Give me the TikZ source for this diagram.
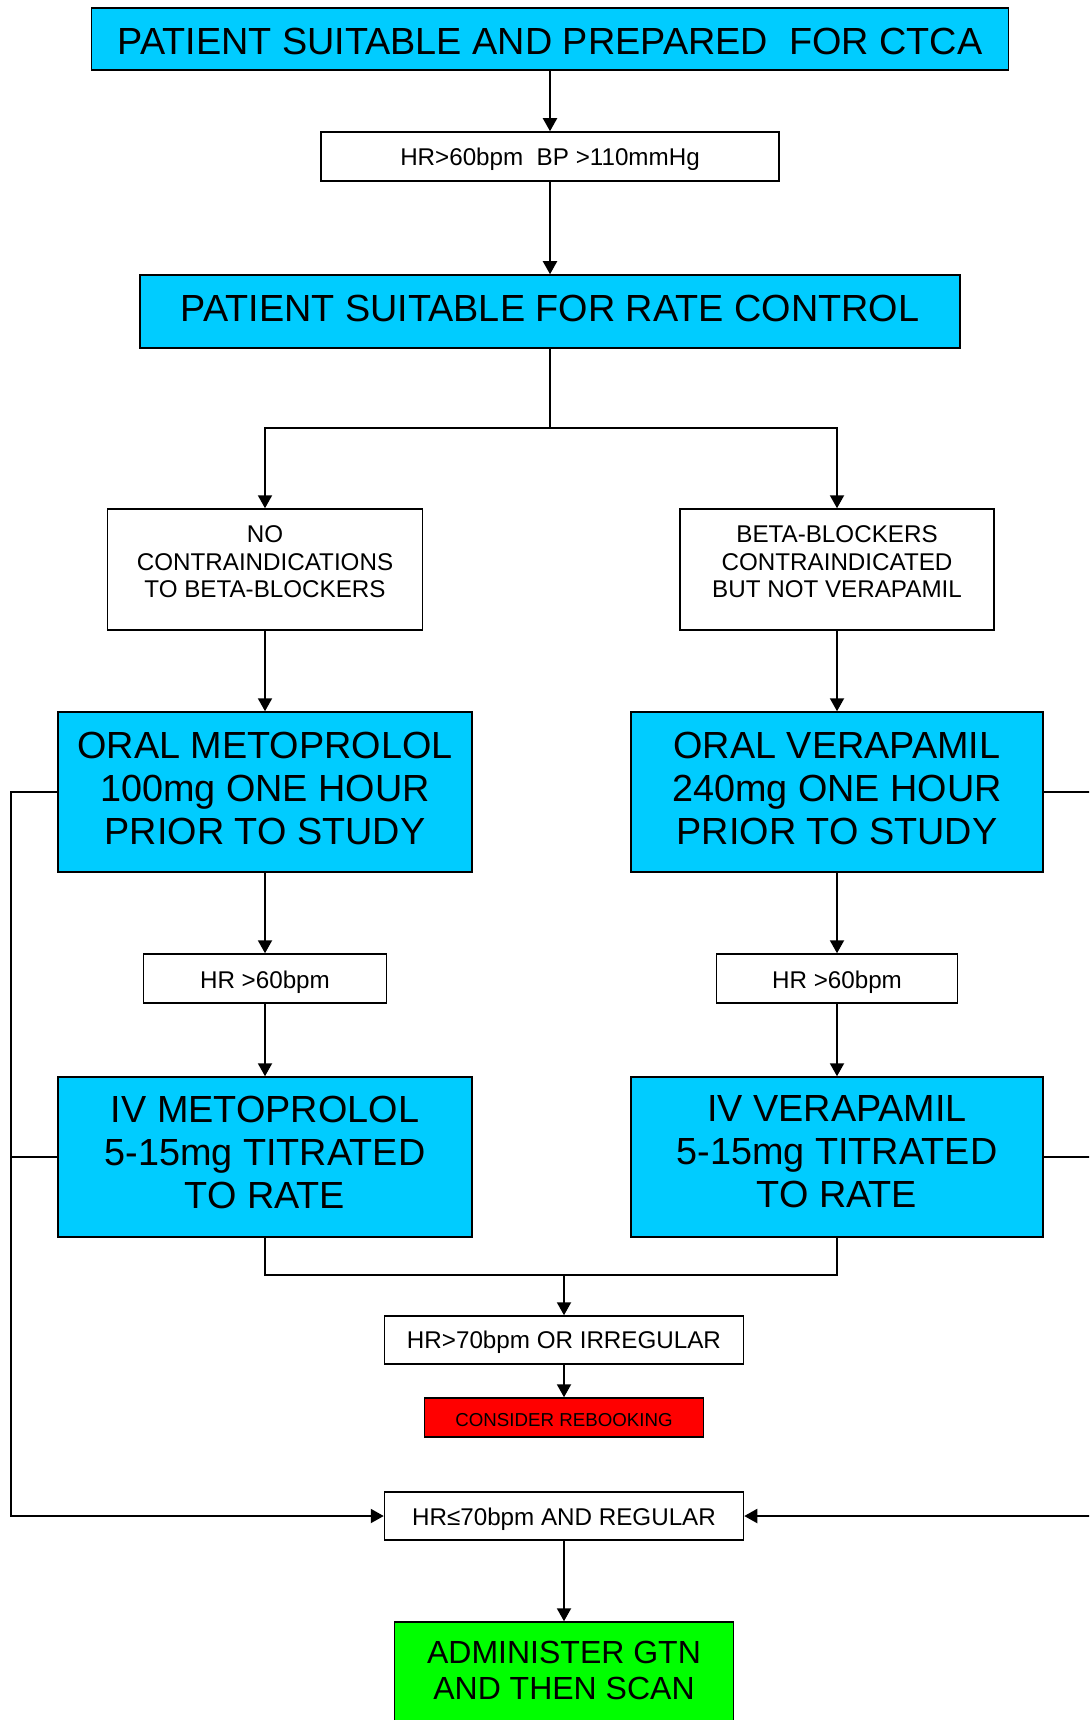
\documentclass[tikz,border=0pt]{standalone}
\usepackage{fontspec}
\setmainfont{Liberation Sans}
\usetikzlibrary{arrows.meta}
\definecolor{boxcyan}{RGB}{0,204,255}
\definecolor{boxgreen}{RGB}{0,255,0}
\definecolor{boxred}{RGB}{255,0,0}
\begin{document}
\begin{tikzpicture}[x=1pt,y=-1pt,
  box/.style={draw=black, line width=1.5pt, rectangle, inner sep=0pt},
  cyanbox/.style={box, fill=boxcyan},
  whitebox/.style={box, fill=white},
  redbox/.style={box, fill=boxred},
  greenbox/.style={box, fill=boxgreen},
  bigtext/.style={font=\fontsize{37.8}{43}\selectfont, align=center, inner sep=0pt},
  smalltext/.style={font=\fontsize{24.2}{27.5}\selectfont, align=center, inner sep=0pt},
  tinytext/.style={font=\fontsize{18.7}{22}\selectfont, inner sep=0pt},
  gtntext/.style={font=\fontsize{32}{36.5}\selectfont, align=center, inner sep=0pt},
  conn/.style={line width=2pt, -{Triangle[length=13pt,width=14pt]}},
  plainline/.style={line width=2pt}
]
\useasboundingbox (0,0) rectangle (1089,1720);
\clip (0,0) rectangle (1089,1720);
\fill[white] (0,0) rectangle (1089,1720);

% boxes
\node[cyanbox, minimum width=917pt, minimum height=62pt] (top) at (550,39) {};
\node[whitebox, minimum width=458pt, minimum height=49pt] (hr1) at (550,156.5) {};
\node[cyanbox, minimum width=820pt, minimum height=73pt] (rate) at (550,311.5) {};
\node[whitebox, minimum width=315pt, minimum height=121pt] (nc) at (265,569.5) {};
\node[whitebox, minimum width=314pt, minimum height=121pt] (bb) at (837,569.5) {};
\node[cyanbox, minimum width=414pt, minimum height=160pt] (om) at (265,792) {};
\node[cyanbox, minimum width=412pt, minimum height=160pt] (ov) at (837,792) {};
\node[whitebox, minimum width=243pt, minimum height=49pt] (hrL) at (265,978.5) {};
\node[whitebox, minimum width=241pt, minimum height=49pt] (hrR) at (837,978.5) {};
\node[cyanbox, minimum width=414pt, minimum height=160pt] (ivm) at (265,1157) {};
\node[cyanbox, minimum width=412pt, minimum height=160pt] (ivv) at (837,1157) {};
\node[whitebox, minimum width=359pt, minimum height=48pt] (irr) at (564,1340) {};
\node[redbox, minimum width=279pt, minimum height=39pt] (reb) at (564,1417.5) {};
\node[whitebox, minimum width=359pt, minimum height=48pt] (reg) at (564,1516) {};
\node[greenbox, minimum width=339pt, minimum height=102pt] (gtn) at (564,1673) {};

% texts
\node[bigtext] (topt) at (550,41) {PATIENT SUITABLE AND PREPARED\ \ FOR CTCA};
\node[smalltext, anchor=base] (hr1t) at (550,166) {HR>60bpm\ \ BP >110mmHg};
\node[bigtext] (ratet) at (550,308) {PATIENT SUITABLE FOR RATE CONTROL};
\node[smalltext] (nct) at (265,562) {NO\\CONTRAINDICATIONS\\TO BETA-BLOCKERS};
\node[smalltext] (bbt) at (837,562) {BETA-BLOCKERS\\CONTRAINDICATED\\BUT NOT VERAPAMIL};
\node[bigtext] (omt) at (265,788) {ORAL METOPROLOL\\100mg ONE HOUR\\PRIOR TO STUDY};
\node[bigtext] (ovt) at (837,788) {ORAL VERAPAMIL\\240mg ONE HOUR\\PRIOR TO STUDY};
\node[smalltext, anchor=base] (hrLt) at (265,988) {HR >60bpm};
\node[smalltext, anchor=base] (hrRt) at (837,988) {HR >60bpm};
\node[bigtext] (ivmt) at (265,1152) {IV METOPROLOL\\5-15mg TITRATED\\TO RATE};
\node[bigtext] (ivvt) at (837,1152) {IV VERAPAMIL\\5-15mg TITRATED\\TO RATE};
\node[smalltext, anchor=base] (irrt) at (564,1348) {HR>70bpm OR IRREGULAR};
\node[tinytext, anchor=base] (rebt) at (564,1426.5) {CONSIDER REBOOKING};
\node[smalltext, anchor=base] (regt) at (564,1525) {HR≤70bpm AND REGULAR};
\node[gtntext] (gtnt) at (564,1670.5) {ADMINISTER GTN\\AND THEN SCAN};

% connectors
\draw[conn] (top) -- (hr1);
\draw[conn] (hr1) -- (rate);
\coordinate (split) at (550,428);
\draw[plainline] (rate.south) -- (split);
\draw[conn] (split) -| (nc.north);
\draw[conn] (split) -| (bb.north);
\draw[conn] (nc) -- (om);
\draw[conn] (bb) -- (ov);
\draw[conn] (om) -- (hrL);
\draw[conn] (ov) -- (hrR);
\draw[conn] (hrL) -- (ivm);
\draw[conn] (hrR) -- (ivv);
\coordinate (merge) at (564,1275);
\draw[plainline] (ivm.south) |- (merge) -| (ivv.south);
\draw[conn] (merge) -- (irr.north);
\draw[conn] (irr) -- (reb);
\coordinate (lbot) at (11,1516);
\coordinate (rbot) at (1100,1516);
\draw[conn] (om.west) -| (lbot) -- (reg.west);
\draw[plainline] (ivm.west) -- (ivm.west -| lbot);
\draw[conn] (ov.east) -| (rbot) -- (reg.east);
\draw[plainline] (ivv.east) -- (ivv.east -| rbot);
\draw[conn] (reg) -- (gtn);
\end{tikzpicture}
\end{document}
